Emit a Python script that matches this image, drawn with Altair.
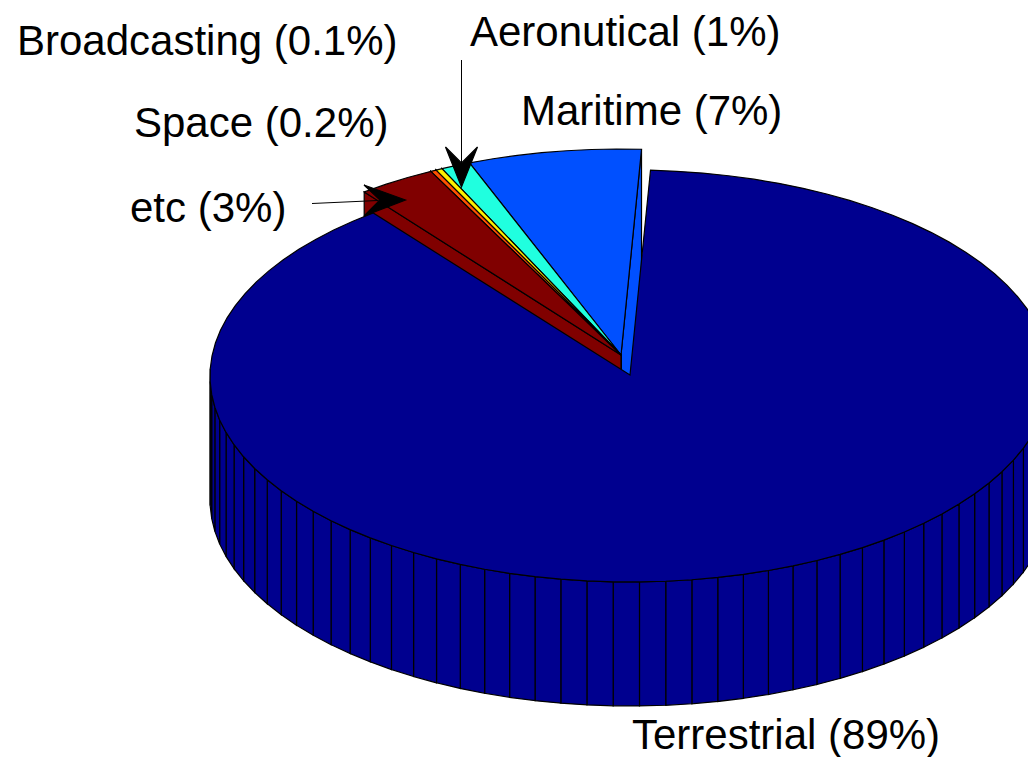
import math
import altair as alt
import pandas as pd

# Wedges; shares
wedge_names = ["Terrestrial", "Maritime", "Aeronutical", "Broadcasting", "Space", "etc"]
wedge_shares = [89.0, 6.67, 1.14, 0.25, 0.22, 3.0]
wedge_segments = [89, 7, 2, 1, 1, 3]
wedge_colors = ["#00008F", "#0050FF", "#20FFDF", "#FFEF00", "#FF5000", "#800000"]

# Pie geometry in picture units
centre_x, centre_y = 630, 376
radius_x, radius_y = 420, 206
depth = 124
start_angle = 2.8
exploded_dx, exploded_dy = -9, -21

# Labels
label_texts = ["Broadcasting (0.1%)", "Aeronutical (1%)", "Maritime (7%)",
               "Space (0.2%)", "etc (3%)", "Terrestrial (89%)"]
label_x = [17, 470, 521, 134, 130, 632]
label_y = [55, 46, 125, 137, 222, 749]

# Arrows: shaft ends and head outlines
shaft_x = [[461.5, 461.5], [312, 378]]
shaft_y = [[60, 165], [203.5, 200.5]]
head_x = [[461.5, 445.5, 461.5, 477.5], [405.5, 364, 380, 364]]
head_y = [[187, 147, 163, 147], [200, 185, 200, 216]]

rows = []
poly_no = [0]


def add(points, color):
    poly_no[0] += 1
    for i, (px, py) in enumerate(points):
        rows.append({"poly": poly_no[0], "i": i, "x": px, "y": py, "color": color})


def rim(cx, cy, a0, a1, n):
    out = []
    for k in range(n + 1):
        a = math.radians(a0 + (a1 - a0) * k / n)
        out.append((cx + radius_x * math.sin(a), cy - radius_y * math.cos(a)))
    return out


total = sum(wedge_shares)
sweep = [s * 360 / total for s in wedge_shares]
spans = [(start_angle, start_angle + sweep[0])]
angle = start_angle
for s in sweep[1:]:
    spans.append((angle, angle - s))
    angle -= s

ex, ey = centre_x + exploded_dx, centre_y + exploded_dy

# Exploded wedges: sides first, then the tops
for k in range(1, 6):
    a0, a1 = spans[k]
    col = wedge_colors[k]
    edge = rim(ex, ey, a0, a1, wedge_segments[k])
    add([(ex, ey), edge[0], (edge[0][0], edge[0][1] + depth), (ex, ey + depth)], col)
    add([(ex, ey), edge[-1], (edge[-1][0], edge[-1][1] + depth), (ex, ey + depth)], col)
for k in range(1, 6):
    a0, a1 = spans[k]
    add([(ex, ey)] + rim(ex, ey, a0, a1, wedge_segments[k]), wedge_colors[k])

# Main wedge: the rim facets facing the viewer, then its top
a0, a1 = spans[0]
main_edge = rim(centre_x, centre_y, a0, a1, wedge_segments[0])
for p, q in zip(main_edge[:-1], main_edge[1:]):
    if p[1] > centre_y or q[1] > centre_y:
        add([p, q, (q[0], q[1] + depth), (p[0], p[1] + depth)], wedge_colors[0])
add([(centre_x, centre_y - 1)] + main_edge, wedge_colors[0])

# Arrowheads
for hx, hy in zip(head_x, head_y):
    add(list(zip(hx, hy)), "#000000")

polys = pd.DataFrame(rows)
shafts = pd.DataFrame(
    [{"s": n, "i": i, "x": xs[i], "y": ys[i]} for n, (xs, ys) in enumerate(zip(shaft_x, shaft_y)) for i in range(2)]
)
labels = pd.DataFrame({"t": label_texts, "x": label_x, "y": label_y})

W, H = 1020, 749
xs = alt.Scale(domain=[8, 8 + W], range=[0, W], nice=False, zero=False)
ys = alt.Scale(domain=[8, 8 + H], range=[0, H], nice=False, zero=False)
X = alt.X("x:Q", scale=xs, axis=None)
Y = alt.Y("y:Q", scale=ys, axis=None)

faces = alt.Chart(polys).mark_line(
    interpolate="linear-closed", clip=True, strokeWidth=1.2, strokeJoin="miter", fill="#000000"
).encode(
    x=X, y=Y, order="i:Q", detail="poly:N",
    fill=alt.Fill("color:N", scale=None, legend=None),
    stroke=alt.value("#000000"),
)
arrows = alt.Chart(shafts).mark_line(strokeWidth=1, color="#000000", clip=True).encode(
    x=X, y=Y, order="i:Q", detail="s:N"
)
text = alt.Chart(labels).mark_text(
    font="Liberation Sans", fontSize=42, align="left", baseline="alphabetic", color="#000000"
).encode(x=X, y=Y, text="t:N")

chart = alt.layer(faces, arrows, text).properties(
    width=W, height=H, padding=0,
    view=alt.ViewConfig(stroke=None),
    background="#ffffff",
)
chart.save("out.html", embed_options={"renderer": "svg", "actions": False})
